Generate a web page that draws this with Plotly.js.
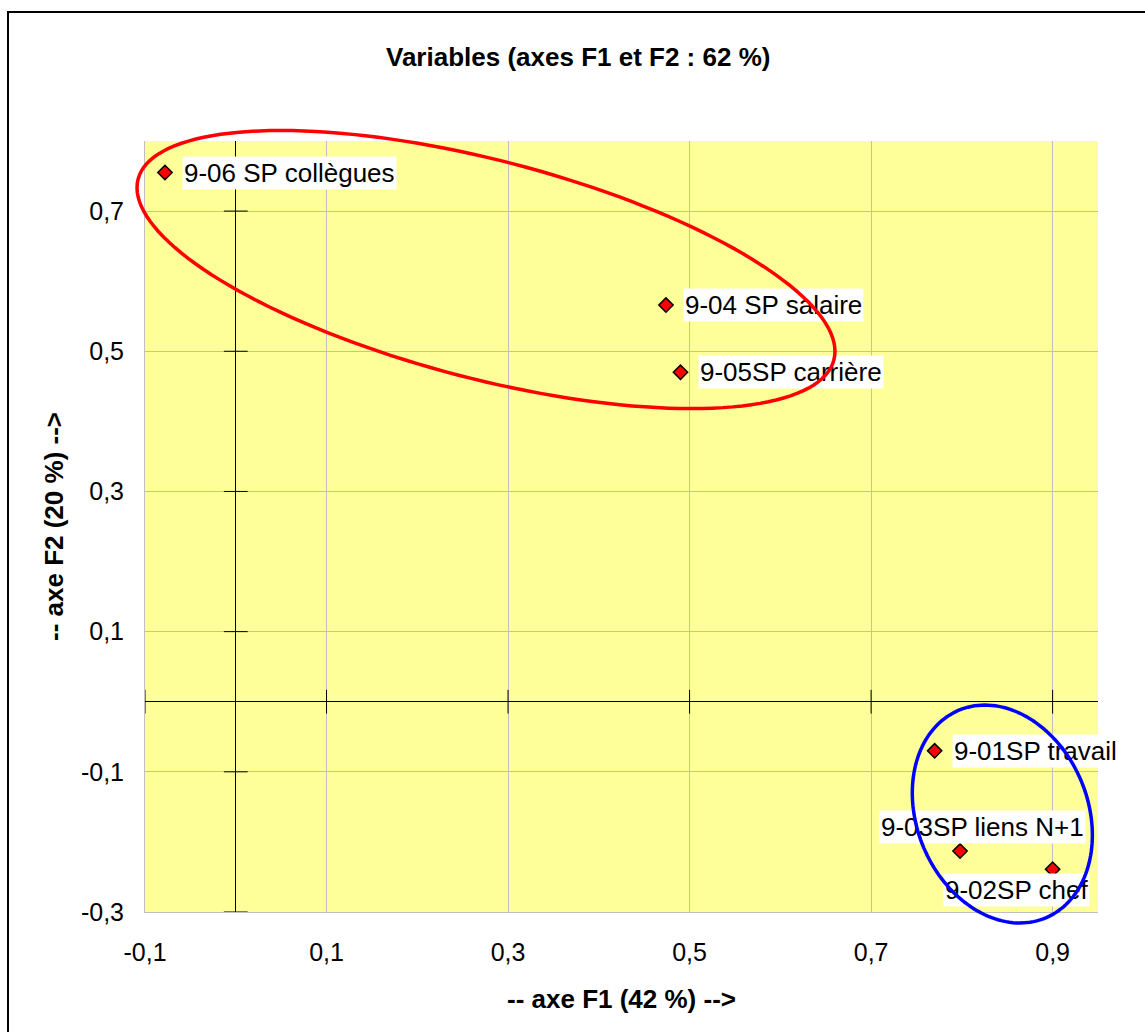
<!DOCTYPE html>
<html>
<head>
<meta charset="utf-8">
<script src="https://cdn.plot.ly/plotly-3.0.1.min.js"></script>
<style>
  html, body { margin: 0; padding: 0; background: #fff; overflow: hidden; }
  #chart { width: 1145px; height: 1032px; }
  #frame { position: absolute; left: 7px; top: 11px; width: 2000px; height: 2000px;
           border: 2px solid #000; pointer-events: none; }
</style>
</head>
<body>
<div id="chart"></div>
<div id="frame"></div>
<script>
// ---- data ----
const labels = ["9-01SP travail", "9-02SP chef", "9-03SP liens N+1", "9-04 SP salaire", "9-05SP carrière", "9-06 SP collègues"];
const f1 = [0.770, 0.900, 0.798, 0.474, 0.490, -0.078];
const f2 = [-0.070, -0.239, -0.213, 0.566, 0.470, 0.755];

const xRange = [-0.1, 0.95];
const yRange = [-0.3, 0.8];
const xTickVals = [-0.1, 0.1, 0.3, 0.5, 0.7, 0.9];
const xTickText = ["-0,1", "0,1", "0,3", "0,5", "0,7", "0,9"];
const yTickVals = [-0.3, -0.1, 0.1, 0.3, 0.5, 0.7];
const yTickText = ["-0,3", "-0,1", "0,1", "0,3", "0,5", "0,7"];

// ellipse outlines (centre and conjugate half-axis vectors, data units)
const redCenter = [0.2757, 0.6166];
const redU = [0.3845, -0.1167];
const redV = [0.0, 0.1604];
const blueCenter = [0.8446, -0.1602];
const blueU = [0.0992, -0.0301];
const blueV = [0.0, 0.1525];

// ---- layout details (label placement, px offsets) ----
const labelPlacement = [
  {xanchor: "left", xshift: 17, yshift: 0},
  {xanchor: "center", xshift: -36, yshift: -21},
  {xanchor: "center", xshift: 22, yshift: 24},
  {xanchor: "left", xshift: 17, yshift: 0},
  {xanchor: "left", xshift: 17, yshift: 0},
  {xanchor: "left", xshift: 17, yshift: 0}
];

// path in axis-domain fractions (so the outline is not clipped to the plot area)
function ellipsePath(c, u, v) {
  const n = 160;
  let d = "";
  for (let i = 0; i <= n; i++) {
    const t = 2 * Math.PI * i / n;
    const x = c[0] + u[0] * Math.cos(t) + v[0] * Math.sin(t);
    const y = c[1] + u[1] * Math.cos(t) + v[1] * Math.sin(t);
    const fx = (x - xRange[0]) / (xRange[1] - xRange[0]);
    const fy = (y - yRange[0]) / (yRange[1] - yRange[0]);
    d += (i === 0 ? "M" : "L") + fx.toFixed(5) + "," + fy.toFixed(5);
  }
  return d + "Z";
}

const FONT = "Liberation Sans, Arial, sans-serif";

const traces = [
  { // cross ticks on the horizontal zero axis
    x: xTickVals, y: xTickVals.map(() => 0), mode: "markers", cliponaxis: false,
    marker: {symbol: "line-ns", size: 17, color: "#000", line: {color: "#000", width: 1}},
    hoverinfo: "skip", showlegend: false
  },
  { // cross ticks on the vertical zero axis
    x: yTickVals.map(() => 0), y: yTickVals, mode: "markers", cliponaxis: false,
    marker: {symbol: "line-ew", size: 17, color: "#000", line: {color: "#000", width: 1}},
    hoverinfo: "skip", showlegend: false
  },
  {
    x: f1, y: f2, text: labels, mode: "markers", type: "scatter", cliponaxis: false,
    marker: {symbol: "diamond", size: 11, color: "#ff0000", line: {color: "#000", width: 1.5}},
    showlegend: false
  }
];

const annotations = labels.map((t, i) => ({
  x: f1[i], y: f2[i], xref: "x", yref: "y", text: t, showarrow: false,
  xanchor: labelPlacement[i].xanchor, yanchor: "middle",
  xshift: labelPlacement[i].xshift, yshift: labelPlacement[i].yshift,
  bgcolor: "#ffffff", borderpad: 1,
  font: {family: FONT, size: 26, color: "#000"}
}));

const layout = {
  width: 1145, height: 1032, autosize: false,
  margin: {l: 145, r: 47, t: 141, b: 120, pad: 0},
  paper_bgcolor: "#ffffff", plot_bgcolor: "#ffff99",
  showlegend: false,
  title: {
    text: "Variables (axes F1 et F2 : 62 %)",
    font: {family: FONT, size: 26, color: "#000", weight: "bold"},
    xref: "container", yref: "container", x: 0.505, y: 0.945, xanchor: "center", yanchor: "middle"
  },
  xaxis: {
    range: xRange, tickmode: "array", tickvals: xTickVals, ticktext: xTickText,
    showgrid: true, gridcolor: "#c0c0c0", gridwidth: 1,
    zeroline: true, zerolinecolor: "#000", zerolinewidth: 1,
    showline: true, linecolor: "#c0c0c0", linewidth: 1,
    ticks: "", ticklabelstandoff: 18,
    tickfont: {family: FONT, size: 25, color: "#000"},
    title: {text: "-- axe F1 (42 %) -->", font: {family: FONT, size: 26, color: "#000", weight: "bold"}, standoff: 24},
    fixedrange: true
  },
  yaxis: {
    range: yRange, tickmode: "array", tickvals: yTickVals, ticktext: yTickText,
    showgrid: true, gridcolor: "#c0c0c0", gridwidth: 1,
    zeroline: true, zerolinecolor: "#000", zerolinewidth: 1,
    showline: true, linecolor: "#c0c0c0", linewidth: 1,
    ticks: "", ticklabelstandoff: 15,
    tickfont: {family: FONT, size: 25, color: "#000"},
    title: {text: "-- axe F2 (20 %) -->", font: {family: FONT, size: 26, color: "#000", weight: "bold"}, standoff: 9},
    fixedrange: true
  },
  shapes: [
    {type: "path", xref: "x domain", yref: "y domain", path: ellipsePath(redCenter, redU, redV),
     line: {color: "#ff0000", width: 3.5}, fillcolor: "rgba(0,0,0,0)", layer: "above"},
    {type: "path", xref: "x domain", yref: "y domain", path: ellipsePath(blueCenter, blueU, blueV),
     line: {color: "#0000ff", width: 3.5}, fillcolor: "rgba(0,0,0,0)", layer: "above"}
  ],
  annotations: annotations
};

Plotly.newPlot("chart", traces, layout, {displayModeBar: false, staticPlot: true}).then(gd => {
  // ellipse outlines are drawn over the white label boxes, as in the original
  const fl = gd._fullLayout;
  if (fl._toppaper && fl._shapeUpperLayer) {
    fl._toppaper.node().appendChild(fl._shapeUpperLayer.node());
  }
});
</script>
</body>
</html>
